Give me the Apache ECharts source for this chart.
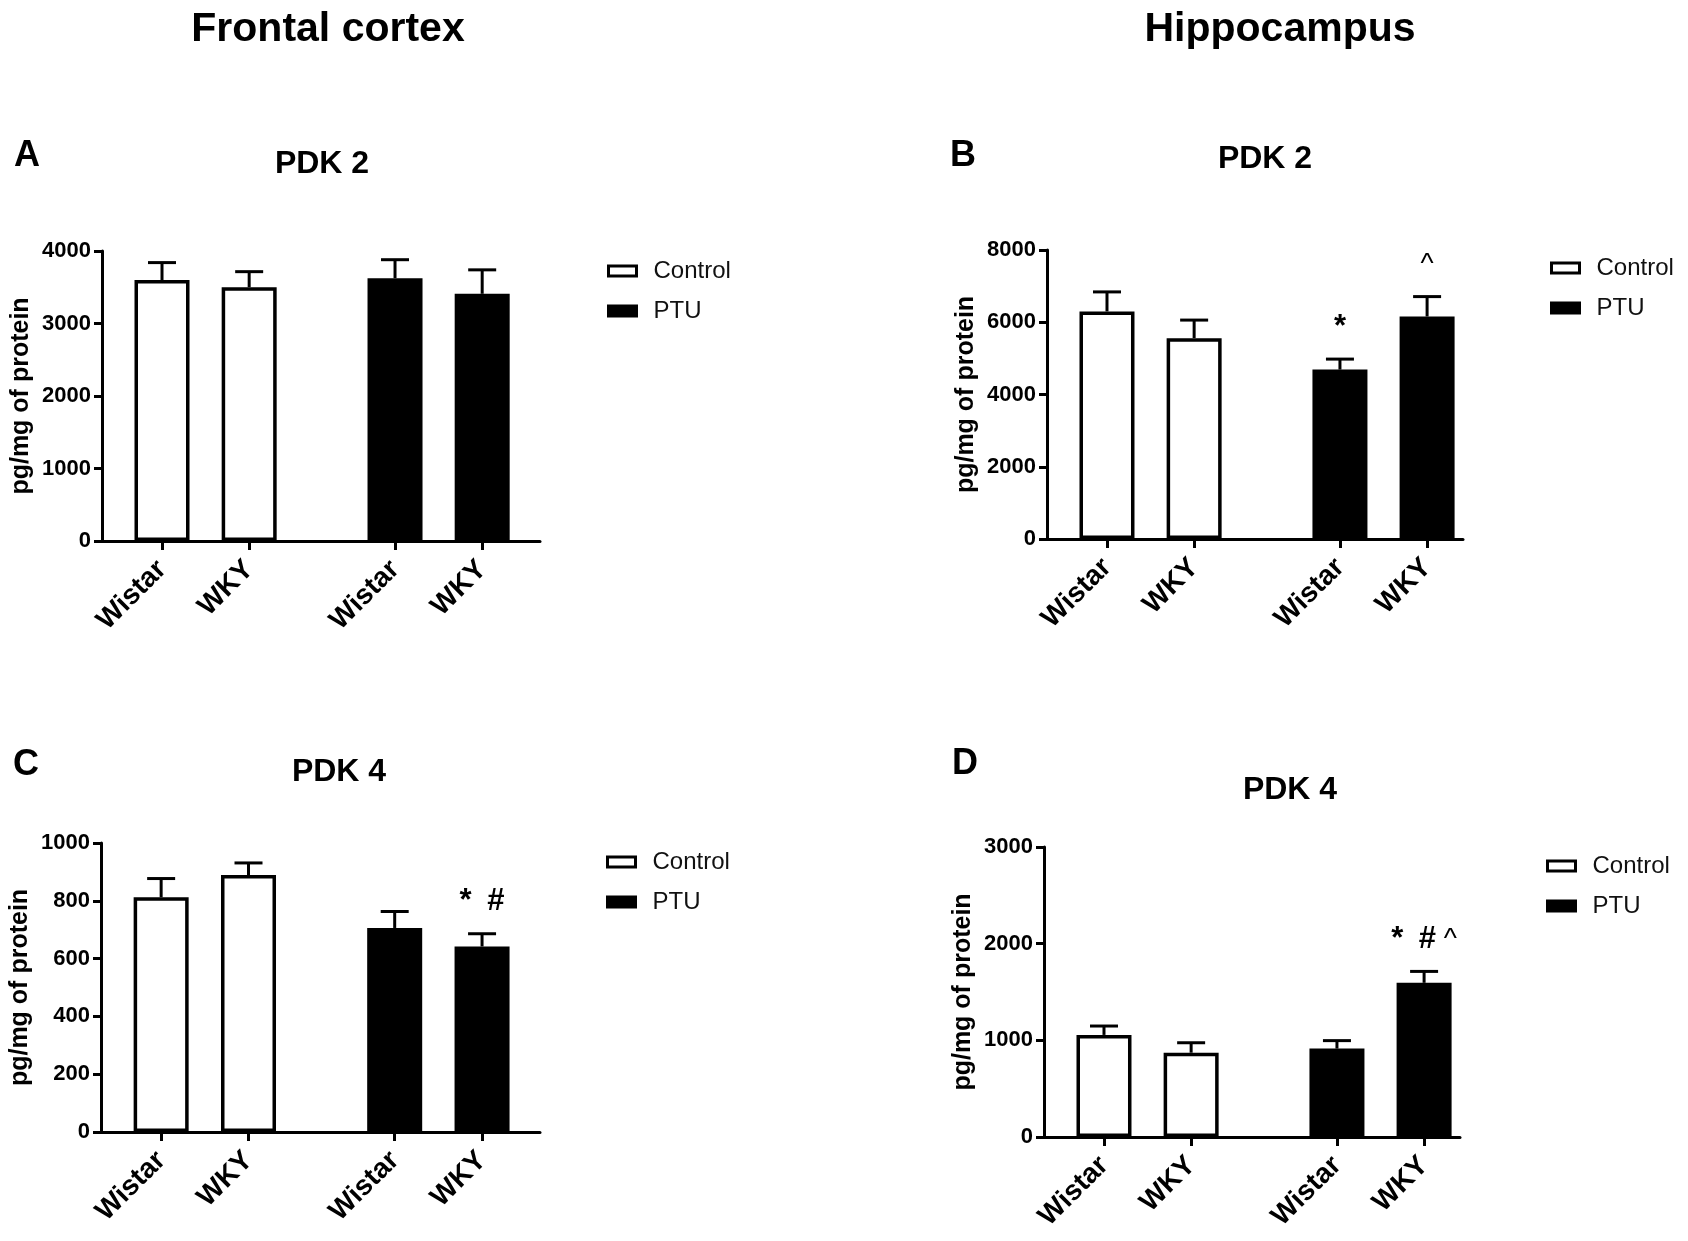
<!DOCTYPE html>
<html>
<head>
<meta charset="utf-8">
<script src="https://cdn.jsdelivr.net/npm/echarts@6/dist/echarts.min.js"></script>
<style>
html, body { margin: 0; padding: 0; background: #fff; }
#main { width: 1688px; height: 1241px; }
</style>
</head>
<body>
<div id="main"></div>
<script>
// x labels, the same in all four panels
var groups = ['Wistar', 'WKY', 'Wistar', 'WKY'];

// A - frontal cortex, PDK 2
var meanA = [3600, 3500, 3625, 3410];
var semA = [240, 215, 255, 330];
var markA = ['', '', '', ''];
var ticksA = [0, 1000, 2000, 3000, 4000];

// B - hippocampus, PDK 2
var meanB = [6300, 5560, 4690, 6160];
var semB = [540, 500, 290, 550];
var markB = ['', '', '*', '^'];
var ticksB = [0, 2000, 4000, 6000, 8000];

// C - frontal cortex, PDK 4
var meanC = [812, 889, 706, 642];
var semC = [65, 42, 57, 44];
var markC = ['', '', '', '*  #'];
var ticksC = [0, 200, 400, 600, 800, 1000];

// D - hippocampus, PDK 4
var meanD = [1056, 872, 915, 1595];
var semD = [92, 103, 82, 118];
var markD = ['', '', '', '*  # ^'];
var ticksD = [0, 1000, 2000, 3000];

var FONT = 'Liberation Sans, Arial, sans-serif';
// where the four bars sit on the x axis (gap between the two pairs)
var slot = [1.37, 3.36, 6.69, 8.68];

var panels = [
	{ mean: meanA, sem: semA, mark: markA, ticks: ticksA, xMax: 10,
	  grid: { left: 102, top: 251, width: 438, height: 290 }, leg: { left: 607, top: 259 } },
	{ mean: meanB, sem: semB, mark: markB, ticks: ticksB, xMax: 9.5,
	  grid: { left: 1047, top: 250, width: 416, height: 289 }, leg: { left: 1550, top: 256 } },
	{ mean: meanC, sem: semC, mark: markC, ticks: ticksC, xMax: 10,
	  grid: { left: 101, top: 843, width: 439, height: 289 }, leg: { left: 606, top: 850 } },
	{ mean: meanD, sem: semD, mark: markD, ticks: ticksD, xMax: 9.5,
	  grid: { left: 1044, top: 847, width: 416, height: 290 }, leg: { left: 1546, top: 854 } }
];

function nameAt (v) {
	var best = 0;
	for (var k = 1; k < slot.length; k++) {
		if (Math.abs(slot[k] - v) < Math.abs(slot[best] - v)) best = k;
	}
	return groups[best];
}

// '^' is set in normal weight, the other marks in bold
function richMark (txt) {
	return txt.split('').map(function (ch) {
		if (ch === ' ') return ' ';
		return ch === '^' ? '{c|^}' : '{b|' + ch + '}';
	}).join('');
}

// error bar (upper only) + significance marks
function makeErr (mark) {
	return function (params, api) {
		var x = api.value(0), m = api.value(1), e = api.value(2);
		var base = api.coord([x, m]);
		var top = api.coord([x, m + e]);
		var st = { stroke: '#000', lineWidth: 3 };
		var kids = [
			{ type: 'line', shape: { x1: base[0], y1: base[1], x2: top[0], y2: top[1] }, style: st },
			{ type: 'line', shape: { x1: top[0] - 14, y1: top[1], x2: top[0] + 14, y2: top[1] }, style: st }
		];
		var txt = mark[params.dataIndex];
		if (txt) {
			kids.push({
				type: 'text', x: top[0], y: top[1] - 32,
				style: {
					text: richMark(txt), fill: '#000', font: 'bold 28px ' + FONT,
					align: 'center', verticalAlign: 'middle',
					textAlign: 'center', textVerticalAlign: 'middle',
					rich: {
						b: { fontSize: 31, fontWeight: 'bold', fontFamily: FONT, fill: '#000' },
						c: { fontSize: 28, fontWeight: 'normal', fontFamily: FONT, fill: '#000' }
					}
				}
			});
		}
		return { type: 'group', children: kids };
	};
}

var grids = [], xAxes = [], yAxes = [], series = [], legends = [];

panels.forEach(function (p, i) {
	var t = p.ticks;
	grids.push(p.grid);
	xAxes.push({
		type: 'value', gridIndex: i, min: 0, max: p.xMax,
		axisLine: { show: true, onZero: false, lineStyle: { color: '#000', width: 3 } },
		axisTick: { show: true, customValues: slot, length: 9, lineStyle: { color: '#000', width: 3 } },
		axisLabel: {
			customValues: slot, rotate: 45, margin: 24,
			fontSize: 28, fontWeight: 'bold', fontFamily: FONT, color: '#000',
			formatter: nameAt
		},
		splitLine: { show: false }
	});
	yAxes.push({
		type: 'value', gridIndex: i,
		min: t[0], max: t[t.length - 1], interval: t[1] - t[0],
		name: 'pg/mg of protein', nameLocation: 'middle', nameGap: 68, nameRotate: 90,
		nameTextStyle: { fontSize: 25, fontWeight: 'bold', fontFamily: FONT, color: '#000' },
		axisLine: { show: true, lineStyle: { color: '#000', width: 3 } },
		axisTick: { show: true, length: 8, lineStyle: { color: '#000', width: 3 } },
		axisLabel: {
			margin: 11, fontSize: 22, fontWeight: 'bold', fontFamily: FONT, color: '#000',
			formatter: function (v) { return String(v); }
		},
		splitLine: { show: false }
	});
	series.push({
		name: 'Control', type: 'bar', xAxisIndex: i, yAxisIndex: i,
		barWidth: 55, barGap: '-100%',
		data: [[slot[0], p.mean[0]], [slot[1], p.mean[1]]],
		itemStyle: { color: '#fff', borderColor: '#000', borderWidth: 3.5 },
		z: 3
	});
	series.push({
		name: 'PTU', type: 'bar', xAxisIndex: i, yAxisIndex: i,
		barWidth: 55, barGap: '-100%',
		data: [[slot[2], p.mean[2]], [slot[3], p.mean[3]]],
		itemStyle: { color: '#000', borderColor: '#000', borderWidth: 3.5 },
		z: 3
	});
	series.push({
		type: 'custom', xAxisIndex: i, yAxisIndex: i, z: 2,
		renderItem: makeErr(p.mark),
		data: p.mean.map(function (m, k) { return [slot[k], m, p.sem[k]]; })
	});
	legends.push({
		orient: 'vertical', left: p.leg.left, top: p.leg.top, padding: 0,
		itemWidth: 28, itemHeight: 10, itemGap: 16,
		textStyle: { fontSize: 24, fontFamily: FONT, color: '#111', padding: [0, 0, 0, 12] },
		data: [
			{ name: 'Control', icon: 'rect', itemStyle: { color: '#fff', borderColor: '#000', borderWidth: 3 } },
			{ name: 'PTU', icon: 'rect', itemStyle: { color: '#000', borderColor: '#000', borderWidth: 3 } }
		]
	});
});

function label (text, x, y, size) {
	return {
		type: 'text', x: x, y: y,
		style: { text: text, fill: '#000', font: 'bold ' + size + 'px ' + FONT,
			align: 'center', verticalAlign: 'middle',
			textAlign: 'center', textVerticalAlign: 'middle' }
	};
}

var myChart = echarts.init(document.getElementById('main'));
var option = {
	animation: false,
	backgroundColor: '#fff',
	grid: grids,
	xAxis: xAxes,
	yAxis: yAxes,
	legend: legends,
	series: series,
	graphic: [
		label('Frontal cortex', 328, 30, 41),
		label('Hippocampus', 1280, 30, 41),
		label('A', 27, 156, 36),
		label('B', 963, 156, 36),
		label('C', 26, 765, 36),
		label('D', 965, 764, 36),
		label('PDK 2', 322, 164, 32),
		label('PDK 2', 1265, 159, 32),
		label('PDK 4', 339, 772, 32),
		label('PDK 4', 1290, 790, 32)
	]
};
myChart.setOption(option);
</script>
</body>
</html>
